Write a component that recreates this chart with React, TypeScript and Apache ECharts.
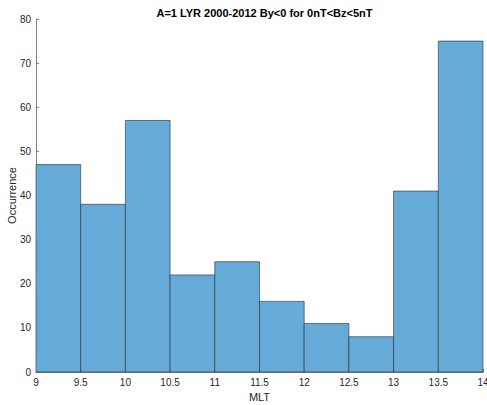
import React, { useEffect, useRef } from "react";
import * as echarts from "echarts";

// Histogram bin edges (MLT hours) and counts per bin
const binStarts = [9, 9.5, 10, 10.5, 11, 11.5, 12, 12.5, 13, 13.5];
const binWidth = 0.5;
const counts = [47, 38, 57, 22, 25, 16, 11, 8, 41, 75];
const yTicks = [0, 10, 20, 30, 40, 50, 60, 70, 80];

const titleText = "A=1 LYR 2000-2012 By<0 for 0nT<Bz<5nT";

export default function App() {
  const ref = useRef<HTMLDivElement>(null);

  useEffect(() => {
    document.body.style.margin = "0";
    if (!ref.current) return;
    const chart = echarts.init(ref.current, null, { renderer: "svg" });
    const font = "'Liberation Sans', Arial, sans-serif";
    const data = binStarts.map((s, i) => [s, s + binWidth, counts[i]]);
    chart.setOption({
      animation: false,
      title: {
        text: titleText,
        left: 259.5,
        textAlign: "center",
        top: 2,
        textStyle: { fontFamily: font, fontSize: 11, fontWeight: "bold", color: "#000" },
      },
      grid: { left: 36, right: 4, top: 19, bottom: 33, containLabel: false, outerBoundsMode: "none" },
      xAxis: {
        type: "value",
        min: 9,
        max: 14,
        interval: 0.5,
        name: "MLT",
        nameLocation: "middle",
        nameGap: 19,
        nameMoveOverlap: false,
        nameTextStyle: { fontFamily: font, fontSize: 11, color: "#262626" },
        axisLine: { show: true, lineStyle: { color: "#808080", width: 1 } },
        axisTick: { show: true, inside: true, length: 3, lineStyle: { color: "#808080" } },
        axisLabel: { fontFamily: font, fontSize: 10, color: "#262626", margin: 5 },
        splitLine: { show: false },
      },
      yAxis: {
        type: "value",
        min: yTicks[0],
        max: yTicks[yTicks.length - 1],
        interval: 10,
        name: "Occurrence",
        nameLocation: "middle",
        nameGap: 19,
        nameMoveOverlap: false,
        nameRotate: 90,
        nameTextStyle: { fontFamily: font, fontSize: 11, color: "#262626" },
        axisLine: { show: true, lineStyle: { color: "#808080", width: 1 } },
        axisTick: { show: true, inside: true, length: 3, lineStyle: { color: "#808080" } },
        axisLabel: { fontFamily: font, fontSize: 10, color: "#262626", margin: 5 },
        splitLine: { show: false },
      },
      series: [
        {
          type: "custom",
          data,
          encode: { x: [0, 1], y: 2 },
          renderItem: (params: any, api: any) => {
            const start = api.coord([api.value(0), api.value(2)]);
            const end = api.coord([api.value(1), 0]);
            return {
              type: "rect",
              shape: { x: start[0], y: start[1], width: end[0] - start[0], height: end[1] - start[1] },
              style: { fill: "#66aad7", stroke: "#1f2f3a", lineWidth: 0.6 },
            };
          },
        },
      ],
    });
    return () => chart.dispose();
  }, []);

  return <div ref={ref} style={{ width: 487, height: 405 }} />;
}
